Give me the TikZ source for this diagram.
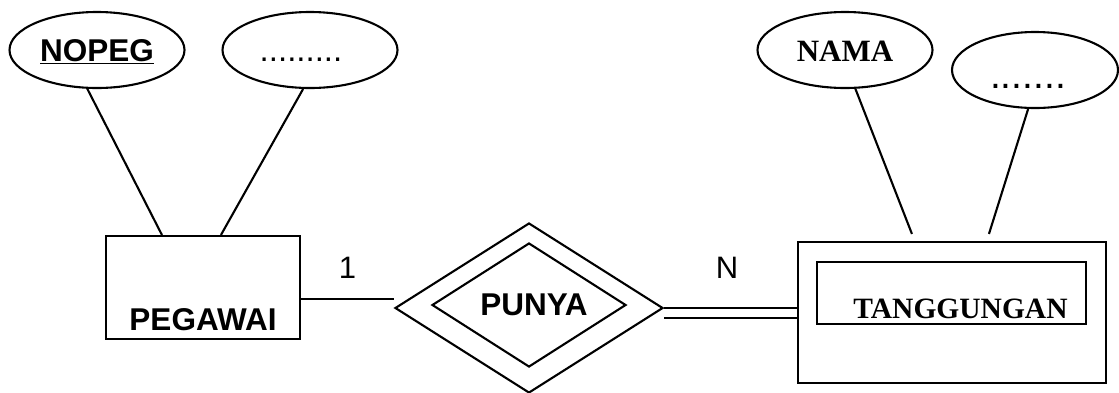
\documentclass[tikz,border=0pt]{standalone}
\usepackage{fontspec}
\setmainfont{Liberation Serif}
\setsansfont{Liberation Sans}
\usetikzlibrary{shapes.geometric}
\tikzset{
    AT1/.style ={ellipse, draw, line width=2.1pt, minimum width=175pt, minimum height=76pt, inner sep=0pt, text height=22pt, text depth=0pt},
    EN1/.style ={rectangle, draw, line width=2.1pt, inner sep=0pt},
    RE1/.style ={diamond, draw, line width=2.1pt, inner sep=0pt, aspect=1.6},
    SF/.style ={font=\sffamily\bfseries\fontsize{31.5}{31.5}\selectfont},
    RM/.style ={font=\rmfamily\bfseries\fontsize{31}{31}\selectfont},
    NU/.style ={font=\sffamily\fontsize{31}{31}\selectfont},
    LN/.style ={line width=2.1pt}}
\begin{document}
\begin{tikzpicture}[x=1pt,y=-1pt]
        \useasboundingbox[fill=white] (0,0) rectangle (1119,392);
        \node[AT1,SF] (nopeg) at(97,50){\underline{NOPEG}};
        \node[AT1,font=\sffamily\fontsize{33}{33}\selectfont] (dots1) at(310,50){\hspace*{-18pt}.........};
        \node[AT1,RM] (nama) at(845,50){NAMA};
        \node[AT1,minimum width=166pt,text height=36pt,font=\sffamily\fontsize{39}{39}\selectfont] (dots2) at(1035,70){\hspace*{-14pt}.......};
        \node[EN1,SF,minimum width=194pt,text height=94pt,text depth=9pt] (pegawai) at(203,287.5){PEGAWAI};
        \node[RE1,minimum width=268pt,minimum height=170pt] (punya2) at(529,308){};
        \node[RE1,SF,minimum width=194pt,minimum height=124pt] (punya) at(529,305){\hspace*{10pt}PUNYA};
        \node[EN1,minimum width=308pt,minimum height=141pt] (tangg2) at(952,312.5){};
        \node[EN1,font=\rmfamily\bfseries\fontsize{29.5}{29.5}\selectfont,minimum width=269pt,text height=56pt,text depth=6pt] (tangg) at(951.5,293){\hspace*{18pt}TANGGUNGAN};
        \node[NU] (one) at(347.5,268){1};
        \node[NU] (many) at(727,268){N};
        % atribut
        \draw[LN] (nopeg.256) -- ([xshift=57pt]pegawai.north west);
        \draw[LN] (dots1.260) -- ([xshift=116pt]pegawai.north west);
        \draw[LN] (nama.285) -- ([xshift=115pt,yshift=7pt]tangg2.north west);
        \draw[LN] (dots2.260) -- ([xshift=192pt,yshift=7pt]tangg2.north west);
        % relasi
        \coordinate (c1) at ([yshift=-11.5pt]pegawai.east);
        \draw[LN] (c1) -- (c1 -| punya2.west);
        \coordinate (c2) at ([yshift=-10pt]punya2.east);
        \draw[line width=2.6pt] (punya2.east) -- (punya2.east -| tangg2.west);
        \draw[line width=2.6pt] (c2) -- (c2 -| tangg2.west);
    \end{tikzpicture}
\end{document}
